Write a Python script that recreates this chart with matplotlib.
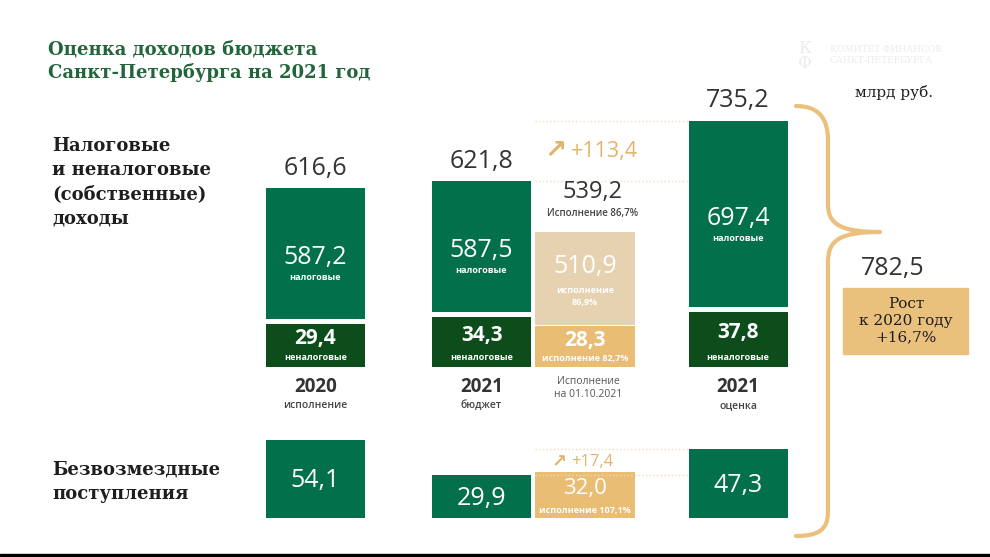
import numpy as np
import matplotlib.pyplot as plt
from matplotlib.path import Path
from matplotlib.patches import PathPatch, Rectangle

# ---- data (млрд руб.) ----
years = ['2020', '2021', '2021']
year_notes = ['исполнение', 'бюджет', 'оценка']
own_total = [616.6, 621.8, 735.2]
tax = [587.2, 587.5, 697.4]
nontax = [29.4, 34.3, 37.8]
gratis = [54.1, 29.9, 47.3]

exec_total = 539.2
exec_total_pct = '86,7%'
exec_tax = 510.9
exec_tax_pct = '86,9%'
exec_nontax = 28.3
exec_nontax_pct = '82,7%'
exec_gratis = 32.0
exec_gratis_pct = '107,1%'
exec_date = '01.10.2021'

growth_own = 113.4
growth_gratis = 17.4
grand_total = 782.5
growth_pct = '+16,7%'

# ---- styles ----
GREEN = '#02714b'
DGREEN = '#0d4d1c'
BEIGE = '#e6d2b0'
TAN = '#e9bd74'
BRACE = '#ebc07c'
NUM = '#333333'
SANS = ['Open Sans', 'DejaVu Sans']
SERIF = ['DejaVu Serif']


def fmt(v):
    return ('%.1f' % v).replace('.', ',')


# scales used to turn values into bar heights (pixel units)
def h_big(v):
    return (v - 325.0) * 0.5


def h_small(v):
    return v * 1.45


fig = plt.figure(figsize=(9.9, 5.57), dpi=100)
ax = fig.add_axes([0, 0, 1, 1])
ax.set_xlim(0, 990)
ax.set_ylim(557, 0)
ax.axis('off')

# column layout
col_x = [315.5, 481.5, 738]
exec_x = 585
bw = 99
base_top = 367
base_bot = 518
gap = 5

tops = []
for i in range(3):
    hn = h_small(nontax[i])
    ax.bar(col_x[i], hn, bottom=base_top - hn, width=bw, color=DGREEN)
    ht = h_big(tax[i])
    t_top = base_top - hn - gap - ht
    ax.bar(col_x[i], ht, bottom=t_top, width=bw, color=GREEN)
    tops.append(t_top)

    ax.text(col_x[i], t_top - 20, fmt(own_total[i]), ha='center', va='center',
            fontsize=18, color=NUM, family=SANS)
    cy = t_top + ht / 2
    ax.text(col_x[i], cy + 4, fmt(tax[i]), ha='center', va='center',
            fontsize=18, color='white', family=SANS, weight='medium')
    ax.text(col_x[i], cy + 24, 'налоговые', ha='center', va='center',
            fontsize=6.5, color='white', family=SANS, weight='bold')
    ax.text(col_x[i], base_top - hn / 2 - 7, fmt(nontax[i]), ha='center', va='center',
            fontsize=15, color='white', family=SANS, weight='bold')
    ax.text(col_x[i], base_top - 10, 'неналоговые', ha='center', va='center',
            fontsize=6.5, color='white', family=SANS, weight='bold')

    ax.text(col_x[i], 387, years[i], ha='center', va='center',
            fontsize=13.5, color=NUM, family=SANS, weight='bold')
    ax.text(col_x[i], 406, year_notes[i], ha='center', va='center',
            fontsize=7.5, color='#444444', family=SANS, weight='semibold')

    hg = h_small(gratis[i])
    ax.bar(col_x[i], hg, bottom=base_bot - hg, width=bw, color=GREEN)
    ax.text(col_x[i], base_bot - hg / 2 + 2, fmt(gratis[i]), ha='center', va='center',
            fontsize=18, color='white', family=SANS)

# execution column
hn = h_small(exec_nontax)
ax.bar(exec_x, hn, bottom=base_top - hn, width=100, color=TAN)
ht = h_big(exec_tax)
e_top = base_top - hn - 1 - ht
ax.bar(exec_x, ht, bottom=e_top, width=100, color=BEIGE)
ax.text(exec_x + 8, e_top - 40, fmt(exec_total), ha='center', va='center',
        fontsize=17, color=NUM, family=SANS)
ax.text(exec_x + 8, e_top - 19, 'Исполнение ' + exec_total_pct, ha='center', va='center',
        fontsize=7, color='#444444', family=SANS, weight='semibold')
ax.text(exec_x, e_top + ht / 2 - 12, fmt(exec_tax), ha='center', va='center',
        fontsize=18, color='white', family=SANS, weight='medium')
ax.text(exec_x, e_top + ht / 2 + 18, 'исполнение\n' + exec_tax_pct, ha='center', va='center',
        fontsize=6.5, color='white', family=SANS, weight='bold', linespacing=1.4)
ax.text(exec_x, base_top - hn / 2 - 6, fmt(exec_nontax), ha='center', va='center',
        fontsize=15, color='white', family=SANS, weight='bold')
ax.text(exec_x, base_top - 9, 'исполнение ' + exec_nontax_pct, ha='center', va='center',
        fontsize=6.5, color='white', family=SANS, weight='bold')
ax.text(exec_x + 3, 388, 'Исполнение\nна ' + exec_date, ha='center', va='center',
        fontsize=7.5, color='#555555', family=SANS, linespacing=1.3)

hg = h_small(exec_gratis)
ax.bar(exec_x, hg, bottom=base_bot - hg, width=100, color=TAN)
ax.text(exec_x, base_bot - hg / 2 - 6, fmt(exec_gratis), ha='center', va='center',
        fontsize=16, color='white', family=SANS, weight='medium')
ax.text(exec_x, base_bot - 7, 'исполнение ' + exec_gratis_pct, ha='center', va='center',
        fontsize=6.5, color='white', family=SANS, weight='bold')

# growth markers between budget and estimate
g_tops = [base_bot - h_small(gratis[1]), base_bot - h_small(gratis[2])]
for (y1, y2, val, fs, afs) in [(tops[1], tops[2], growth_own, 15.5, 19),
                                (g_tops[0], g_tops[1], growth_gratis, 12, 13)]:
    for y in (y1, y2):
        ax.plot([535, 688], [y, y], ls=':', lw=1, color='#eedcbd')
    ym = (y1 + y2) / 2
    ax.text(exec_x - 18, ym, '\u2197', ha='right', va='center',
            fontsize=afs, color='#e2b36a', family=['DejaVu Sans'], weight='bold')
    ax.text(exec_x - 14, ym, '+' + fmt(val), ha='left', va='center',
            fontsize=fs, color='#e2b36a', family=SANS)

# left row labels
ax.text(52, 182, 'Налоговые\nи неналоговые\n(собственные)\nдоходы', ha='left', va='center',
        fontsize=13, color='#1e1e1e', family=SERIF, weight='bold', linespacing=1.45)
ax.text(52, 482, 'Безвозмездные\nпоступления', ha='left', va='center',
        fontsize=13, color='#1e1e1e', family=SERIF, weight='bold', linespacing=1.45)

# title
ax.text(48, 61, 'Оценка доходов бюджета\nСанкт-Петербурга на 2021 год', ha='left', va='center',
        fontsize=13, color='#23653a', family=SERIF, weight='bold', linespacing=1.3)

# faint logo / units
ax.text(798, 56, 'К\nФ', ha='left', va='center', fontsize=12, color='#ececec',
        family=SERIF, linespacing=0.8)
ax.text(830, 55, 'КОМИТЕТ ФИНАНСОВ\nСАНКТ-ПЕТЕРБУРГА', ha='left', va='center', fontsize=6.5,
        color='#ececec', family=SERIF, linespacing=1.3)
ax.text(855, 92, 'млрд руб.', ha='left', va='center', fontsize=11, color='#1e1e1e',
        family=SERIF)

# brace
verts = [(796, 106), (820, 106), (828, 120), (828, 140),
         (828, 204),
         (828, 224), (840, 232), (880, 232),
         (840, 232), (828, 240), (828, 262),
         (828, 512),
         (828, 530), (818, 536), (796, 536)]
codes = [Path.MOVETO, Path.CURVE4, Path.CURVE4, Path.CURVE4,
         Path.LINETO,
         Path.CURVE4, Path.CURVE4, Path.CURVE4,
         Path.CURVE4, Path.CURVE4, Path.CURVE4,
         Path.LINETO,
         Path.CURVE4, Path.CURVE4, Path.CURVE4]
ax.add_patch(PathPatch(Path(verts, codes), fill=False, lw=3, edgecolor=BRACE,
                       capstyle='round', joinstyle='round'))

ax.text(893, 268, fmt(grand_total), ha='center', va='center', fontsize=18,
        color=NUM, family=SANS)
ax.add_patch(Rectangle((843, 288), 125, 66, color='#e9c17d'))
ax.text(906, 321, 'Рост\nк 2020 году\n' + growth_pct, ha='center', va='center',
        fontsize=11, color='#1e1e1e', family=SERIF, linespacing=1.25)

# bottom frame line
ax.add_patch(Rectangle((0, 553.5), 990, 4, color='black'))

fig.savefig('out.png', dpi=100)
